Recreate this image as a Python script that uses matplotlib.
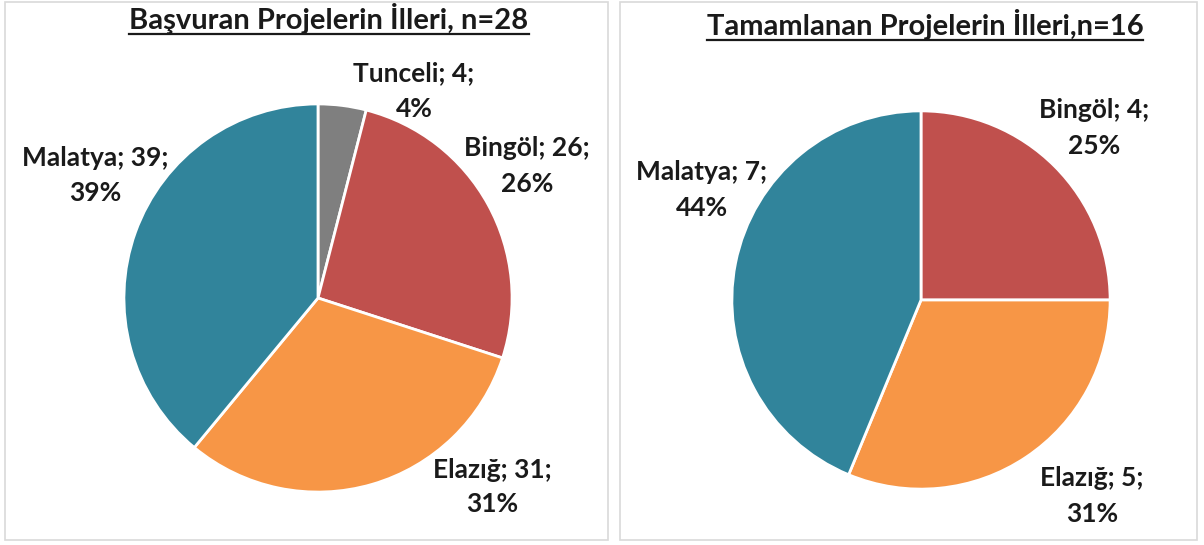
import matplotlib.pyplot as plt
from matplotlib.patches import Rectangle
from matplotlib.lines import Line2D

# veriler
iller_basvuru = ['Tunceli', 'Bingöl', 'Elazığ', 'Malatya']
sayilar_basvuru = [4, 26, 31, 39]
iller_tamam = ['Bingöl', 'Elazığ', 'Malatya']
sayilar_tamam = [4, 5, 7]
baslik_sol = 'Başvuran Projelerin İlleri, n=28'
baslik_sag = 'Tamamlanan Projelerin İlleri,n=16'

renkler = {'Tunceli': '#7F7F7F', 'Bingöl': '#C0504D',
           'Elazığ': '#F79646', 'Malatya': '#31849B'}

plt.rcParams['font.family'] = ['Lato', 'DejaVu Sans']
W, H = 1204, 545
fig = plt.figure(figsize=(W / 100, H / 100), dpi=100)

def px(x, y):
    return x / W, 1 - y / H

# panel cerceveleri
for x0, x1 in [(5, 608), (620, 1197)]:
    fig.patches.append(Rectangle(px(x0, 540), (x1 - x0) / W, 538 / H,
                                 transform=fig.transFigure, fill=False,
                                 edgecolor='#D9D9D9', linewidth=1.2))

def pasta(merkez, r, iller, sayilar, etiket_yerleri):
    cx, cy = merkez
    ax = fig.add_axes([(cx - r) / W, 1 - (cy + r) / H, 2 * r / W, 2 * r / H])
    ax.pie(sayilar, colors=[renkler[i] for i in iller], startangle=90,
           counterclock=False, radius=1,
           wedgeprops=dict(edgecolor='white', linewidth=2))
    ax.set_xlim(-1.01, 1.01)
    ax.set_ylim(-1.01, 1.01)
    ax.axis('off')
    toplam = sum(sayilar)
    for il, s, (lx, ly) in zip(iller, sayilar, etiket_yerleri):
        fig.text(*px(lx, ly), f'{il}; {s};\n{round(100 * s / toplam)}%',
                 ha='center', va='center', fontsize=19, fontweight='bold',
                 linespacing=1.55, color='#1a1a1a')

pasta((318, 298), 196, iller_basvuru, sayilar_basvuru,
      [(414, 91), (527, 166), (492, 487), (95, 175)])
pasta((921, 300), 191, iller_tamam, sayilar_tamam,
      [(1094, 128), (1092, 496), (702, 190)])

basliklar = []
for (x, y), b in [((329, 29), baslik_sol), ((925, 35), baslik_sag)]:
    basliklar.append(fig.text(*px(x, y), b, ha='center', va='baseline',
                              fontsize=21, fontweight='bold', color='#1a1a1a'))

fig.canvas.draw()
r = fig.canvas.get_renderer()
for t in basliklar:
    bb = t.get_window_extent(r)
    yy = t.get_position()[1] * H - 5
    fig.add_artist(Line2D([bb.x0 / W, bb.x1 / W], [yy / H, yy / H],
                          transform=fig.transFigure, color='#1a1a1a', linewidth=1.6))

fig.savefig('out.png', dpi=100, facecolor='white')
